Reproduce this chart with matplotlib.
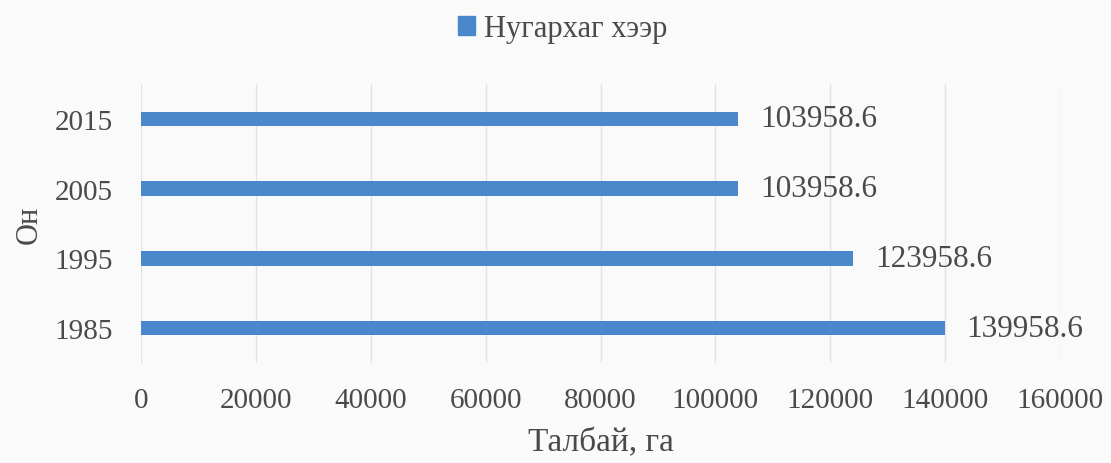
import matplotlib
matplotlib.use("Agg")
import matplotlib.pyplot as plt
from matplotlib.patches import Patch

years = ["1985", "1995", "2005", "2015"]
area_ha = [139958.6, 123958.6, 103958.6, 103958.6]
series_name = "Нугархаг хээр"
x_label = "Талбай, га"
y_label = "Он"
x_ticks = [0, 20000, 40000, 60000, 80000, 100000, 120000, 140000, 160000]

plt.rcParams["font.family"] = ["Liberation Serif", "DejaVu Serif"]
text_color = "#4a4a4a"
bar_color = "#4a87cb"

fig = plt.figure(figsize=(11.11, 4.64), dpi=100, facecolor="#fafafa")
ax = fig.add_axes([141 / 1111, 1 - 364 / 464, (1060 - 141) / 1111, (364 - 85) / 464])
ax.set_facecolor("#fafafa")

pos = list(range(len(years)))
ax.barh(pos, area_ha, height=0.21, color=bar_color, zorder=3)

for p, v in zip(pos, area_ha):
    ax.text(v + 3800, p, f"{v:.1f}", va="center", ha="left",
            fontsize=22.5, color=text_color, zorder=4)

ax.set_xlim(0, 160000)
ax.set_ylim(-0.5, len(years) - 0.5)
ax.set_xticks(x_ticks)
ax.set_xticklabels([str(t) for t in x_ticks])
ax.set_yticks(pos)
ax.set_yticklabels(years)
ax.tick_params(axis="both", length=0, labelsize=21, labelcolor=text_color)
ax.tick_params(axis="x", pad=17)
ax.tick_params(axis="y", pad=20)
ax.grid(axis="x", color="#e2e2e2", linewidth=1.0, zorder=0)
for s in ax.spines.values():
    s.set_visible(False)

ax.set_xlabel(x_label, fontsize=24, color=text_color, labelpad=10)
ax.set_ylabel(y_label, fontsize=22, color=text_color, labelpad=8)

fig.legend(handles=[Patch(color=bar_color, label=series_name)],
           loc="center", bbox_to_anchor=(563 / 1111, 1 - 30 / 464),
           frameon=False, fontsize=22, handlelength=0.55, handleheight=0.55,
           handletextpad=0.3, labelcolor=text_color)

fig.savefig("out.png", dpi=100, facecolor=fig.get_facecolor())
